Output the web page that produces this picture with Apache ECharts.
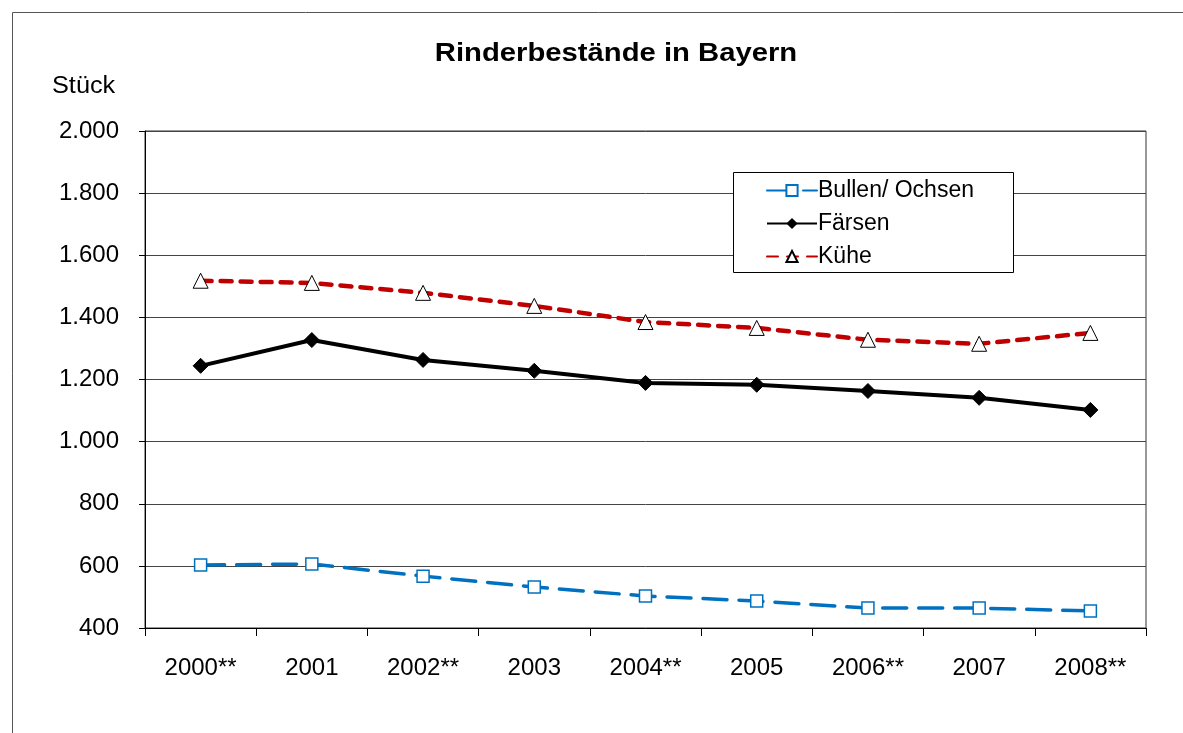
<!DOCTYPE html>
<html>
<head>
<meta charset="utf-8">
<script src="https://cdn.jsdelivr.net/npm/echarts@6/dist/echarts.min.js"></script>
<style>
  html, body { margin: 0; padding: 0; background: #fff; }
  #chart { width: 1183px; height: 733px; }
</style>
</head>
<body>
<div id="chart"></div>
<script>
// Daten (Stück)
var jahre = ['2000**', '2001', '2002**', '2003', '2004**', '2005', '2006**', '2007', '2008**'];
var bullen = [603, 606, 567, 532, 503, 487, 464, 464, 455];
var faersen = [1244, 1327, 1263, 1228, 1189, 1183, 1163, 1141, 1102];
var kuehe = [1518, 1511, 1479, 1437, 1385, 1366, 1328, 1315, 1350];
var yTicks = [400, 600, 800, 1000, 1200, 1400, 1600, 1800, 2000];

var chart = echarts.init(document.getElementById('chart'));
var fnt = 'Liberation Sans, Arial, sans-serif';

function fmt(v) {
    return String(v).replace(/\B(?=(\d{3})+(?!\d))/g, '.');
}

var option = {
    animation: false,
    textStyle: { fontFamily: fnt },
    graphic: [
        { type: 'rect', shape: { x: 12.5, y: 12.5, width: 1180, height: 730 },
          style: { fill: 'none', stroke: '#555', lineWidth: 1 }, z: -1 },
        // Titel (leicht gestreckt wie im Original)
        { type: 'text', x: 616, y: 54, scaleX: 1.17,
          style: { text: 'Rinderbestände in Bayern', fontSize: 25, fontWeight: 'bold',
                   fill: '#000', fontFamily: fnt, align: 'center', verticalAlign: 'middle' } },
        { type: 'text', x: 52, y: 87, scaleX: 1.1,
          style: { text: 'Stück', fontSize: 23, fill: '#000', fontFamily: fnt,
                   verticalAlign: 'middle' } },
        { type: 'rect', shape: { x: 733.5, y: 172.5, width: 280, height: 100 },
          style: { fill: '#fff', stroke: '#000', lineWidth: 1 }, z: 5 }
    ],
    legend: {
        orient: 'vertical',
        left: 761, top: 174,
        itemGap: 10,
        itemWidth: 50, itemHeight: 14,
        z: 10,
        textStyle: { fontSize: 23, color: '#000', fontFamily: fnt, padding: [0, 0, 0, -4] },
        data: ['Bullen/ Ochsen', 'Färsen', 'Kühe']
    },
    grid: { left: 145, right: 37, top: 131, bottom: 105, show: true,
            borderColor: '#333', borderWidth: 1 },
    xAxis: {
        type: 'category',
        data: jahre,
        boundaryGap: true,
        axisLine: { lineStyle: { color: '#000', width: 1 } },
        axisTick: { show: true, length: 8, inside: false, lineStyle: { color: '#000' } },
        axisLabel: { fontSize: 24, color: '#000', margin: 28, fontFamily: fnt }
    },
    yAxis: {
        type: 'value',
        min: yTicks[0], max: yTicks[yTicks.length - 1], interval: 200,
        axisLine: { show: true, lineStyle: { color: '#000', width: 1 } },
        axisTick: { show: true, length: 6, lineStyle: { color: '#000' } },
        axisLabel: { fontSize: 24, color: '#000', margin: 26, fontFamily: fnt, formatter: fmt },
        splitLine: { lineStyle: { color: '#444', width: 1 } }
    },
    series: [
        {
            name: 'Bullen/ Ochsen', type: 'line', data: bullen,
            symbol: 'rect', symbolSize: 12,
            itemStyle: { color: '#fff', borderColor: '#0070c0', borderWidth: 1.5 },
            lineStyle: { color: '#0070c0', width: 3.5, type: [24, 12], cap: 'round' },
            z: 3
        },
        {
            name: 'Färsen', type: 'line', data: faersen,
            symbol: 'diamond', symbolSize: 15,
            itemStyle: { color: '#000', borderColor: '#000' },
            lineStyle: { color: '#000', width: 4 },
            z: 3
        },
        {
            name: 'Kühe', type: 'line', data: kuehe,
            symbol: 'triangle', symbolSize: 15,
            itemStyle: { color: '#fff', borderColor: '#000', borderWidth: 1 },
            lineStyle: { color: '#c00000', width: 4.5, type: [11, 9], cap: 'round' },
            z: 3
        }
    ]
};
chart.setOption(option);
</script>
</body>
</html>
